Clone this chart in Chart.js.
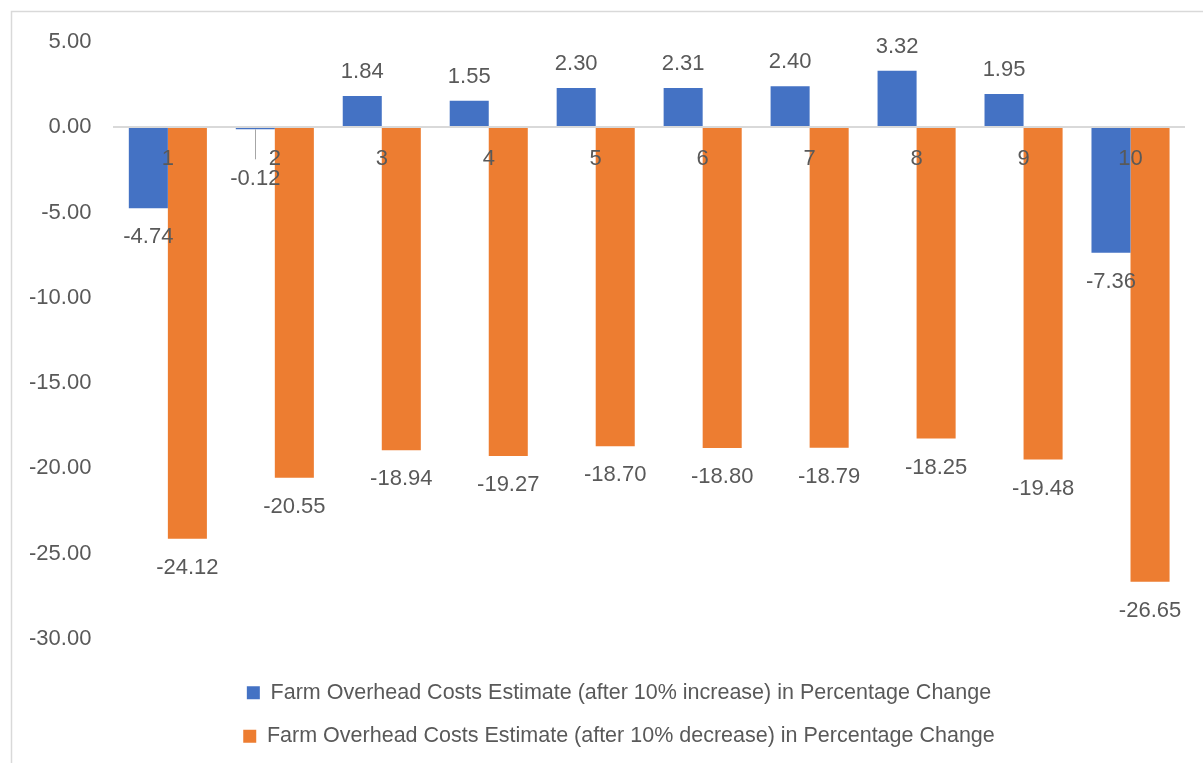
<!DOCTYPE html>
<html>
<head>
<meta charset="utf-8">
<script src="https://cdn.jsdelivr.net/npm/chart.js@4"></script>
<style>
  html, body { margin: 0; padding: 0; background: #fff; }
  #wrap { width: 1203px; height: 763px; }
</style>
</head>
<body>
<div id="wrap"><canvas id="chart" width="1203" height="763"></canvas></div>
<script>
const canvas = document.getElementById('chart');
const ctx = canvas.getContext('2d');

// Data
const categories = ['1', '2', '3', '4', '5', '6', '7', '8', '9', '10'];
const increaseValues = [-4.74, -0.12, 1.84, 1.55, 2.30, 2.31, 2.40, 3.32, 1.95, -7.36];
const decreaseValues = [-24.12, -20.55, -18.94, -19.27, -18.70, -18.80, -18.79, -18.25, -19.48, -26.65];
const seriesNames = [
  'Farm Overhead Costs Estimate (after 10% increase) in Percentage Change',
  'Farm Overhead Costs Estimate (after 10% decrease) in Percentage Change'
];

// Config
const BLUE = '#4472C4';
const ORANGE = '#ED7D31';
const TEXT = '#595959';
const LINE = '#d9d9d9';
const FONT = "'Liberation Sans', Arial, sans-serif";

// chart frame like the office export
const framePlugin = {
  id: 'frame',
  beforeDraw(chart) {
    const c = chart.ctx;
    c.save();
    c.strokeStyle = LINE;
    c.lineWidth = 1.5;
    c.strokeRect(11.5, 11.5, 1400, 1000);
    c.restore();
  }
};

// nudge the legend a bit right so it sits under the plot like the original
const legendShift = {
  id: 'legendShift',
  afterLayout(chart) {
    const lg = chart.legend;
    if (!lg) return;
    lg.left += 24;
    lg.right += 24;
  }
};

// value labels above / below each bar
const valueLabels = {
  id: 'valueLabels',
  afterDatasetsDraw(chart) {
    const c = chart.ctx;
    const zeroY = chart.scales.y.getPixelForValue(0);
    c.save();
    c.font = '22px ' + FONT;
    c.fillStyle = TEXT;
    c.textAlign = 'center';
    c.textBaseline = 'middle';
    chart.data.datasets.forEach((ds, i) => {
      chart.getDatasetMeta(i).data.forEach((bar, j) => {
        const v = ds.data[j];
        let y;
        if (v >= 0) {
          y = bar.y - 24;
        } else if (bar.y - zeroY < 15) {
          // tiny bar: push the label under the axis label, with a leader
          y = zeroY + 52;
          c.strokeStyle = '#a6a6a6';
          c.lineWidth = 1;
          c.beginPath();
          c.moveTo(Math.round(bar.x) + 0.5, bar.y);
          c.lineTo(Math.round(bar.x) + 0.5, zeroY + 32);
          c.stroke();
        } else {
          y = bar.y + 29;
        }
        c.fillText(v.toFixed(2), bar.x, y);
      });
    });
    c.restore();
  }
};

new Chart(ctx, {
  type: 'bar',
  data: {
    labels: categories,
    datasets: [
      { label: seriesNames[0], data: increaseValues, backgroundColor: BLUE },
      { label: seriesNames[1], data: decreaseValues, backgroundColor: ORANGE }
    ]
  },
  options: {
    responsive: false,
    animation: false,
    categoryPercentage: 0.73,
    barPercentage: 1,
    layout: { padding: { left: 6, right: 19, top: 42, bottom: 6 } },
    plugins: {
      legend: {
        position: 'bottom',
        title: { display: true, text: '', font: { size: 10 }, padding: { top: 0, bottom: 9 } },
        labels: {
          boxWidth: 13,
          boxHeight: 13,
          padding: 22,
          color: TEXT,
          font: { family: FONT, size: 21.5 }
        }
      },
      tooltip: { enabled: false }
    },
    scales: {
      x: {
        position: { y: 0 },
        z: 1,
        grid: { display: false, drawTicks: false, z: 1 },
        border: { display: true, color: LINE, width: 2, z: 1 },
        ticks: { color: TEXT, padding: 18, z: 1, font: { family: FONT, size: 22 } }
      },
      y: {
        min: -30,
        max: 5,
        grid: { display: false, drawTicks: false },
        border: { display: false },
        ticks: {
          stepSize: 5,
          padding: 23,
          color: TEXT,
          font: { family: FONT, size: 22 },
          callback: (v) => v.toFixed(2)
        }
      }
    }
  },
  plugins: [framePlugin, legendShift, valueLabels]
});
</script>
</body>
</html>
